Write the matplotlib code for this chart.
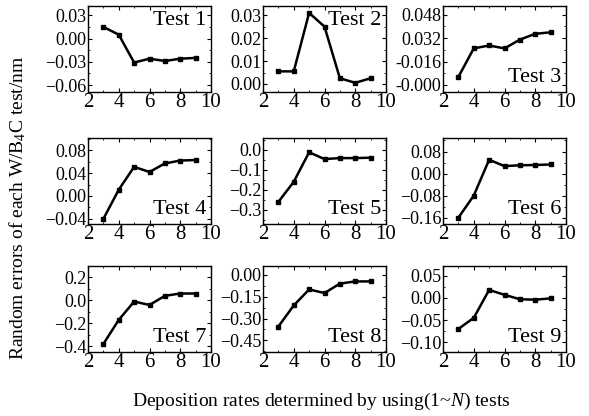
import matplotlib
matplotlib.use("Agg")
import matplotlib.pyplot as plt
from matplotlib.ticker import MultipleLocator, FixedLocator, FixedFormatter

plt.rcParams['font.family'] = ['Liberation Serif', 'DejaVu Serif']
plt.rcParams['mathtext.fontset'] = 'custom'
plt.rcParams['mathtext.rm'] = 'Liberation Serif'
plt.rcParams['mathtext.it'] = 'Liberation Serif:italic'

x = [3, 4, 5, 6, 7, 8, 9]

test1 = [0.015, 0.005, -0.031, -0.026, -0.029, -0.026, -0.025]
test2 = [0.0055, 0.0055, 0.031, 0.025, 0.0025, 0.0005, 0.0025]
test3 = [0.0055, 0.025, 0.027, 0.025, 0.031, 0.035, 0.036]
test4 = [-0.040, 0.011, 0.051, 0.042, 0.057, 0.062, 0.063]
test5 = [-0.26, -0.16, -0.013, -0.047, -0.042, -0.042, -0.040]
test6 = [-0.160, -0.080, 0.050, 0.027, 0.030, 0.031, 0.033]
test7 = [-0.38, -0.17, -0.01, -0.04, 0.04, 0.06, 0.06]
test8 = [-0.355, -0.21, -0.10, -0.125, -0.06, -0.045, -0.045]
test9 = [-0.070, -0.045, 0.018, 0.007, -0.003, -0.004, -0.001]

series = [test1, test2, test3, test4, test5, test6, test7, test8, test9]
names = ['Test 1', 'Test 2', 'Test 3', 'Test 4', 'Test 5', 'Test 6',
         'Test 7', 'Test 8', 'Test 9']

yticks = [
    [-0.06, -0.03, 0.00, 0.03],
    [0.00, 0.01, 0.02, 0.03],
    [0.000, 0.016, 0.032, 0.048],
    [-0.04, 0.00, 0.04, 0.08],
    [-0.3, -0.2, -0.1, 0.0],
    [-0.16, -0.08, 0.00, 0.08],
    [-0.4, -0.2, 0.0, 0.2],
    [-0.45, -0.30, -0.15, 0.00],
    [-0.10, -0.05, 0.00, 0.05],
]
ylabels = [
    ['\u22120.06', '\u22120.03', '0.00', '0.03'],
    ['0.00', '0.01', '0.02', '0.03'],
    ['-0.000', '-0.016', '0.032', '0.048'],
    ['\u22120.04', '0.00', '0.04', '0.08'],
    ['\u22120.3', '\u22120.2', '\u22120.1', '0.0'],
    ['\u22120.16', '\u22120.08', '0.00', '0.08'],
    ['\u22120.4', '\u22120.2', '0.0', '0.2'],
    ['\u22120.45', '\u22120.30', '\u22120.15', '0.00'],
    ['\u22120.10', '\u22120.05', '0.00', '0.05'],
]
ylims = [(-0.069, 0.042), (-0.0035, 0.034), (-0.0048, 0.054),
         (-0.049, 0.1015), (-0.37, 0.058), (-0.183, 0.129),
         (-0.45, 0.30), (-0.53, 0.061), (-0.122, 0.072)]
# label in top-right for tests 1 and 2, bottom-right for the rest
label_top = [True, True, False, False, False, False, False, False, False]

fig = plt.figure(figsize=(5.89, 4.16), dpi=100)

lefts = [88 / 589, 263 / 589, 443 / 589]
bottoms = [1 - 92 / 416, 1 - 224 / 416, 1 - 352 / 416]
w = 123 / 589
h = 86 / 416

for i in range(9):
    r, c = divmod(i, 3)
    ax = fig.add_axes([lefts[c], bottoms[r], w, h])
    ax.plot(x, series[i], color='black', lw=1.8, marker='s', ms=3.5)
    ax.set_xlim(2, 10)
    ax.set_ylim(*ylims[i])
    ax.xaxis.set_major_locator(MultipleLocator(2))
    ax.xaxis.set_minor_locator(MultipleLocator(1))
    ax.yaxis.set_major_locator(FixedLocator(yticks[i]))
    ax.yaxis.set_major_formatter(FixedFormatter(ylabels[i]))
    step = yticks[i][1] - yticks[i][0]
    ax.yaxis.set_minor_locator(MultipleLocator(step / 2))
    ax.tick_params(which='both', direction='in', top=True, right=True)
    ax.tick_params(which='major', length=3, width=0.8)
    ax.tick_params(which='minor', length=1.5, width=0.6)
    ax.tick_params(axis='y', labelsize=13, pad=1)
    ax.tick_params(axis='x', labelsize=15, pad=1)
    for sp in ax.spines.values():
        sp.set_linewidth(1.0)
    if label_top[i]:
        ax.text(0.96, 0.94, names[i], transform=ax.transAxes, ha='right',
                va='top', fontsize=16)
    else:
        ax.text(0.96, 0.06, names[i], transform=ax.transAxes, ha='right',
                va='bottom', fontsize=16)

fig.text(0.545, 0.035, 'Deposition rates determined by using(1~$\\mathit{N}$) tests',
         ha='center', va='center', fontsize=14)
fig.text(0.03, 0.5, 'Random errors of each W/B$_4$C test/nm', ha='center',
         va='center', rotation=90, fontsize=14)

fig.savefig('out.png', dpi=100)
